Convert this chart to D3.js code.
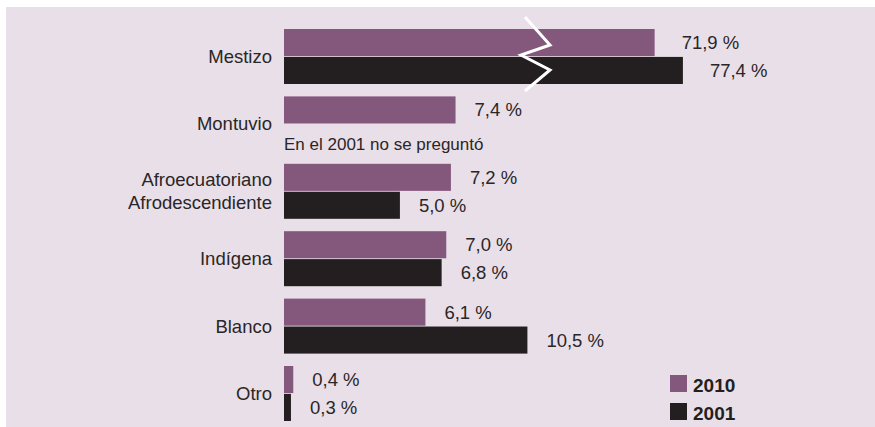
<!DOCTYPE html>
<html>
<head>
<meta charset="utf-8">
<script src="https://cdn.jsdelivr.net/npm/d3@7"></script>
<style>
  html, body { margin: 0; padding: 0; background: #ffffff; }
  svg { display: block; }
  text { font-family: "Liberation Sans", Arial, sans-serif; fill: #2a2627; }
</style>
</head>
<body>
<svg id="chart" width="875" height="427"></svg>
<script>
// ---- data ----
const categories = ["Mestizo", "Montuvio", "Afroecuatoriano|Afrodescendiente", "Indígena", "Blanco", "Otro"];
const series = ["2010", "2001"];
const values2010 = [71.9, 7.4, 7.2, 7.0, 6.1, 0.4];
const values2001 = [77.4, null, 5.0, 6.8, 10.5, 0.3];
const missingNote = "En el 2001 no se preguntó";
const brokenCategory = "Mestizo";
const breakValue = 11;

// ---- layout ----
const W = 875, H = 427;
const colors = { "2010": "#84587d", "2001": "#231f20" };
const bg = "#e9dfe8";

const svg = d3.select("#chart");
svg.append("rect").attr("x", 6).attr("y", 7).attr("width", W - 6).attr("height", H - 7).attr("fill", bg);

// broken (piecewise) value scale
const x = d3.scaleLinear().domain([0, breakValue, 71, 78]).range([284, 539, 650, 686]);
const y = d3.scaleBand().domain(categories).range([29, 421]).paddingInner(0.184).paddingOuter(0);
const ys = d3.scaleBand().domain(series).range([0, y.bandwidth()]).paddingInner(0.03);

const rows = [];
categories.forEach((c, i) => {
  rows.push({ cat: c, s: "2010", v: values2010[i] });
  rows.push({ cat: c, s: "2001", v: values2001[i] });
});

const fmt = v => d3.format(".1f")(v).replace(".", ",") + " %";

// bars
svg.append("g").selectAll("rect").data(rows.filter(d => d.v != null)).join("rect")
  .attr("x", x(0))
  .attr("y", d => y(d.cat) + ys(d.s))
  .attr("width", d => x(d.v) - x(0))
  .attr("height", ys.bandwidth())
  .attr("fill", d => colors[d.s]);

// value labels
svg.append("g").selectAll("text").data(rows.filter(d => d.v != null)).join("text")
  .attr("x", d => x(d.v) + (d.cat === brokenCategory ? 27 : 19))
  .attr("y", d => y(d.cat) + ys(d.s) + ys.bandwidth() / 2)
  .attr("dy", "0.35em")
  .attr("font-size", 18.5)
  .text(d => fmt(d.v));

// missing note
rows.filter(d => d.v == null).forEach(d => {
  svg.append("text")
    .attr("x", x(0))
    .attr("y", y(d.cat) + ys(d.s) + ys.bandwidth() - 1)
    .attr("font-size", 17)
    .text(missingNote);
});

// category labels
const catG = svg.append("g");
categories.forEach(c => {
  const lines = c.split("|");
  const cy = y(c) + y.bandwidth() / 2;
  const lh = 23;
  lines.forEach((ln, i) => {
    catG.append("text")
      .attr("x", 272)
      .attr("y", cy + (i - (lines.length - 1) / 2) * lh)
      .attr("dy", "0.35em")
      .attr("text-anchor", "end")
      .attr("font-size", 18.5)
      .text(ln);
  });
});

// break mark (zigzag) on the broken bars
{
  const bx = x(breakValue) - 2;
  const top = y(brokenCategory);
  const h = y.bandwidth();
  const pts = [
    [bx - 12, top - 12],
    [bx + 13, top + 16],
    [bx - 16, top + 26],
    [bx + 13, top + 41],
    [bx - 12, top + 62]
  ];
  svg.append("path")
    .attr("d", d3.line()(pts))
    .attr("fill", "none")
    .attr("stroke", "#ffffff")
    .attr("stroke-width", 3)
    .attr("stroke-linejoin", "miter");
}

// legend
const leg = svg.append("g");
series.forEach((s, i) => {
  leg.append("rect")
    .attr("x", 670).attr("y", 375 + i * 28)
    .attr("width", 17).attr("height", 17)
    .attr("fill", colors[s]);
  leg.append("text")
    .attr("x", 693).attr("y", 392 + i * 28)
    .attr("font-size", 19)
    .attr("font-weight", "bold")
    .style("fill", "#231f20")
    .text(s);
});
</script>
</body>
</html>
